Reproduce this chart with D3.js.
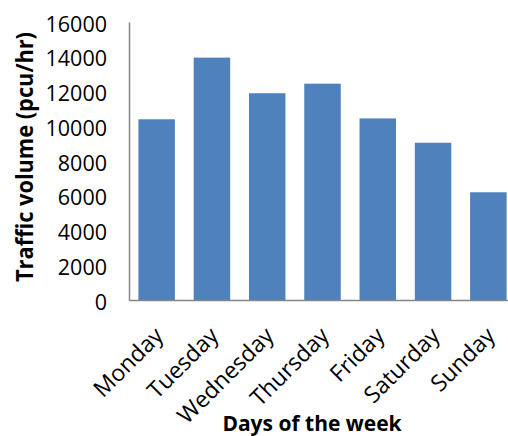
<!DOCTYPE html>
<html>
<head>
<meta charset="utf-8">
<script src="https://cdn.jsdelivr.net/npm/d3@7"></script>
<style>
  body { margin: 0; background: #fff; }
  svg { display: block; }
  .tick text { font-family: "Open Sans", sans-serif; fill: #000; }
</style>
</head>
<body>
<div id="chart"></div>
<script>
const days = ['Monday', 'Tuesday', 'Wednesday', 'Thursday', 'Friday', 'Saturday', 'Sunday'];
const volumes = [10400, 13950, 11900, 12450, 10450, 9050, 6200];
const yTicks = [0, 2000, 4000, 6000, 8000, 10000, 12000, 14000, 16000];

const width = 508, height = 436;
const margin = {top: 22, right: -8, bottom: 136, left: 129};

const svg = d3.select('#chart')
    .append('svg')
        .attr('width', width)
        .attr('height', height);

const x = d3.scaleBand()
    .domain(days)
    .range([margin.left, width - margin.right])
    .paddingInner(0.34)
    .paddingOuter(0.17);

const y = d3.scaleLinear()
    .domain([0, 16000])
    .range([height - margin.bottom, margin.top]);

// bars
svg.append('g')
    .selectAll('rect')
    .data(volumes)
    .enter()
    .append('rect')
        .attr('x', (d, i) => x(days[i]))
        .attr('y', d => y(d))
        .attr('width', x.bandwidth())
        .attr('height', d => y(0) - y(d))
        .style('fill', '#4f81bd');

// y axis
const yAxis = svg.append('g')
    .attr('transform', `translate(${margin.left},0)`)
    .call(d3.axisLeft(y).tickValues(yTicks).tickSize(0).tickPadding(22).tickFormat(d3.format('d')));
yAxis.select('.domain').attr('stroke', '#868686').attr('stroke-width', 1.5);
yAxis.selectAll('.tick text')
    .style('font-size', '21.5px')
    .attr('dy', '0.42em');

// x axis
const xAxis = svg.append('g')
    .attr('transform', `translate(0,${y(0)})`)
    .call(d3.axisBottom(x).tickSize(0).tickPadding(0));
xAxis.select('.domain').attr('stroke', '#868686').attr('stroke-width', 1.5);
xAxis.selectAll('.tick text')
    .style('font-size', '23px')
    .attr('text-anchor', 'end')
    .attr('dy', 0)
    .attr('y', 0)
    .attr('transform', 'translate(8,37) rotate(-45)');

// axis titles
svg.append('text')
    .attr('transform', `translate(33,157) rotate(-90)`)
    .attr('text-anchor', 'middle')
    .attr('textLength', 250)
    .attr('lengthAdjust', 'spacingAndGlyphs')
    .style('font-family', '"Open Sans", sans-serif')
    .style('font-weight', 'bold')
    .style('font-size', '24px')
    .text('Traffic volume (pcu/hr)');

svg.append('text')
    .attr('x', 312)
    .attr('y', 431)
    .attr('text-anchor', 'middle')
    .style('font-family', '"Open Sans", sans-serif')
    .style('font-weight', 'bold')
    .style('font-size', '21px')
    .text('Days of the week');
</script>
</body>
</html>
